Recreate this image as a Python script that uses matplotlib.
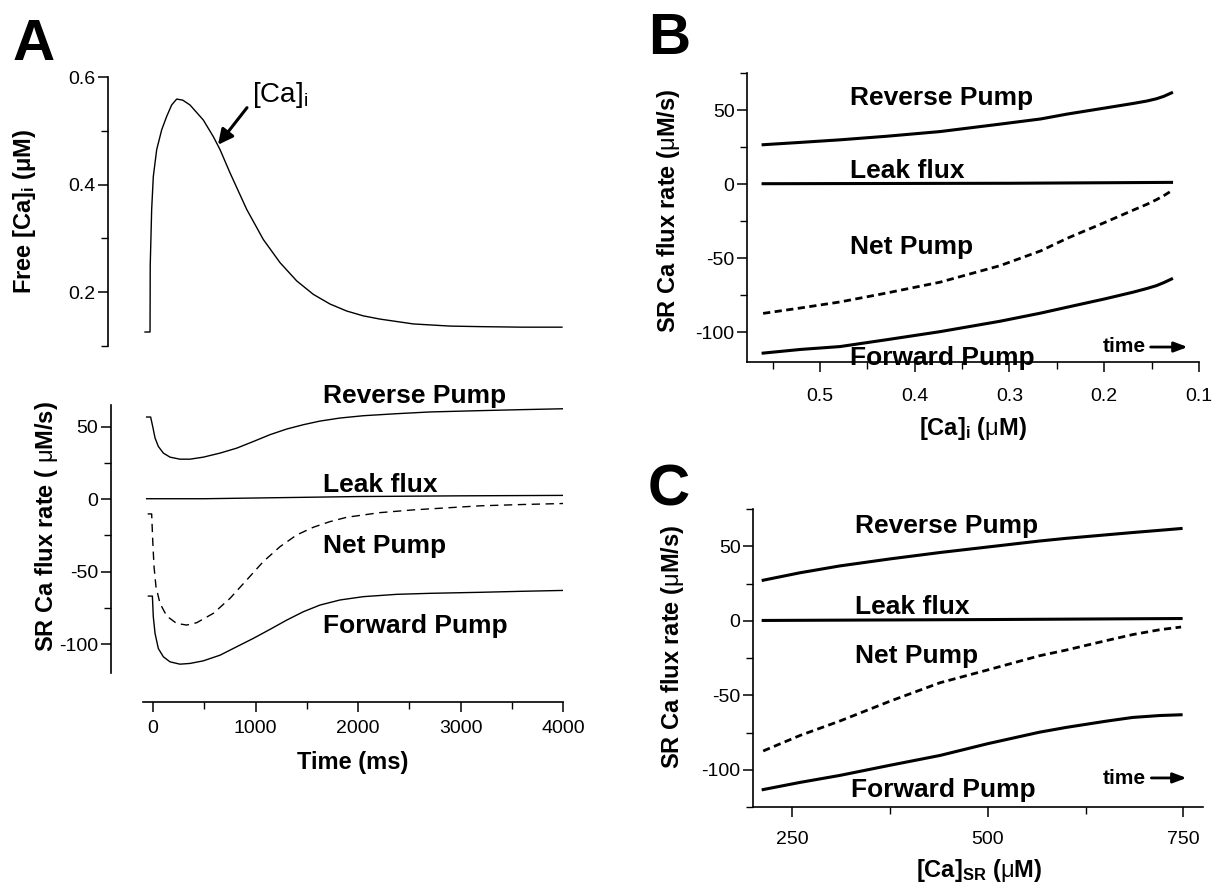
import numpy as np
import matplotlib
matplotlib.use('Agg')
import matplotlib.pyplot as plt
from matplotlib.ticker import MultipleLocator

plt.rcParams['font.family'] = ['Liberation Sans', 'DejaVu Sans']
plt.rcParams['mathtext.fontset'] = 'custom'
plt.rcParams['mathtext.rm'] = 'Liberation Sans'
plt.rcParams['mathtext.bf'] = 'Liberation Sans:bold'
plt.rcParams['mathtext.it'] = 'Liberation Sans:italic'
plt.rcParams['axes.unicode_minus'] = False

# ---- Panel A, top: free [Ca]i transient (ms, uM)
t_ca = [-78, -29, -27, -13, 3, 36, 85, 134, 182, 231, 290, 361, 491, 589, 654,
        751, 914, 1076, 1239, 1402, 1564, 1727, 1890, 2052, 2215, 2540, 2900,
        3190, 3600, 3990]
ca_i = [0.126, 0.126, 0.25, 0.354, 0.415, 0.465, 0.502, 0.527, 0.548, 0.559,
        0.557, 0.548, 0.520, 0.489, 0.465, 0.422, 0.354, 0.298, 0.255, 0.221,
        0.196, 0.178, 0.165, 0.156, 0.150, 0.141, 0.137, 0.136, 0.135, 0.135]

# ---- Panel A, bottom: SR Ca fluxes vs time (uM/s)
t_rev = [-62, -23, -3, 20, 52, 101, 166, 263, 361, 491, 654, 816, 979, 1141,
         1304, 1467, 1629, 1824, 2052, 2377, 2702, 3190, 3600, 4000]
a_reverse = [56.7, 56.7, 50.2, 42.2, 36.4, 31.8, 29.0, 27.6, 27.6, 29.0, 31.8,
             35.2, 39.8, 44.5, 48.4, 51.4, 53.9, 56.0, 57.6, 59.0, 60.2, 61.1,
             61.8, 62.4]
t_leak = [-62, 500, 1000, 2000, 3000, 4000]
a_leak = [0.3, 0.3, 0.8, 1.8, 2.3, 2.6]
t_net = [-52, -13, -3, 10, 29, 68, 134, 231, 329, 426, 589, 751, 914, 1076,
         1239, 1402, 1564, 1727, 1890, 2215, 2540, 3190, 3600, 4000]
a_net = [-10.2, -10.2, -28.1, -46.6, -60.4, -71.9, -80.7, -85.8, -86.9, -85.3,
         -78.8, -68.5, -55.8, -43.1, -32.8, -24.7, -19.4, -15.5, -12.5, -9.3,
         -7.4, -4.6, -3.7, -3.0]
t_fwd = [-45, -6, 3, 20, 52, 101, 166, 263, 361, 491, 654, 816, 979, 1141,
         1304, 1467, 1629, 1824, 2052, 2377, 2702, 3190, 3600, 4000]
a_forward = [-66.9, -66.9, -81.2, -92.7, -103.1, -108.8, -112.3, -113.9,
             -113.4, -111.6, -107.7, -101.9, -96.1, -89.9, -83.5, -77.7,
             -73.1, -69.6, -67.3, -65.7, -65.0, -64.3, -63.6, -63.0]

# ---- Panel B: fluxes vs [Ca]i (uM)
b_ca = [0.56, 0.52, 0.479, 0.43, 0.373, 0.31, 0.267, 0.239, 0.2, 0.169, 0.155,
        0.145, 0.137, 0.129]
b_reverse = [26.6, 28.2, 29.9, 32.3, 35.5, 40.5, 44, 47.3, 51.3, 54.5, 56.1,
             57.6, 59.3, 61.6]
b_net = [-87.2, -83.5, -79.5, -73.5, -66.1, -55, -45, -36.5, -26, -17.4, -13.6,
         -10.5, -7.7, -4.5]
b_forward = [-114, -111.5, -109.6, -105, -99.5, -92.5, -87, -83, -77.5, -72.8,
             -70.4, -68.5, -66.4, -64]
b_leak_ca = [0.56, 0.3, 0.129]
b_leak = [0.3, 0.6, 1.2]

# ---- Panel C: fluxes vs [Ca]SR (uM)
c_sr = [213, 260, 311, 375, 439, 500, 566, 600, 650, 685, 720, 747]
c_reverse = [27.2, 32.2, 36.8, 41.5, 45.8, 49.5, 53.5, 55.3, 57.6, 59.2, 60.7,
             61.9]
c_net = [-87.4, -77, -67.3, -54, -41.6, -33, -23.5, -19.7, -13.5, -9.3, -6,
         -4.2]
c_forward = [-113.3, -108.5, -103.8, -97, -90.4, -82.5, -74.8, -71.6, -67.5,
             -64.9, -63.6, -63.1]
c_leak_sr = [213, 500, 747]
c_leak = [0.2, 0.8, 1.5]

W, H = 1215, 883


def rect(l, r, t, b):
    return [l / W, 1 - b / H, (r - l) / W, (b - t) / H]


def ftext(x, y, s, **kw):
    fig.text(x / W, 1 - y / H, s, **kw)


def style(ax, xpad=6):
    ax.spines['top'].set_visible(False)
    ax.spines['right'].set_visible(False)
    for s in ('left', 'bottom'):
        ax.spines[s].set_linewidth(1.2)
    ax.tick_params(which='major', direction='out', length=7, width=1.1,
                   labelsize=14, colors='black')
    ax.tick_params(which='minor', direction='out', length=5, width=1.0)
    ax.tick_params(axis='y', pad=2)
    ax.tick_params(axis='x', pad=xpad)
    ax.patch.set_alpha(0)


fig = plt.figure(figsize=(W / 100, H / 100), dpi=100)

# ---------------- A top
axa = fig.add_axes(rect(142.75, 563, 77, 346))
style(axa)
axa.plot(t_ca, ca_i, color='black', lw=1.0)
axa.set_xlim(-100, 4000)
axa.set_ylim(0.1, 0.6)
axa.spines['bottom'].set_visible(False)
axa.set_xticks([])
axa.spines['left'].set_position(('outward', 25))
axa.set_yticks([0.2, 0.4, 0.6])
axa.yaxis.set_minor_locator(MultipleLocator(0.1))
axa.set_yticklabels(['0.2', '0.4', '0.6'])
axa.annotate('', xy=(634, 0.474), xytext=(917, 0.543),
             arrowprops=dict(arrowstyle='-|>,head_length=0.9,head_width=0.45',
                             lw=2.2, color='black', shrinkA=0, shrinkB=0))
axa.text(966, 0.554, r'[Ca]$_\mathrm{i}$', fontsize=20, va='baseline',
         ha='left')

# ---------------- A bottom
axb = fig.add_axes(rect(142.75, 563, 405, 673))
style(axb)
axb.plot(t_rev, a_reverse, color='black', lw=1.0)
axb.plot(t_leak, a_leak, color='black', lw=1.0)
axb.plot(t_net, a_net, color='black', lw=1.0, dashes=(6, 4))
axb.plot(t_fwd, a_forward, color='black', lw=1.0)
axb.set_xlim(-100, 4000)
axb.set_ylim(-120, 65)
axb.spines['left'].set_position(('outward', 23))
axb.spines['bottom'].set_position(('outward', 21))
axb.set_yticks([-100, -50, 0, 50])
axb.yaxis.set_minor_locator(MultipleLocator(25))
axb.set_xticks([0, 1000, 2000, 3000, 4000])
axb.xaxis.set_minor_locator(MultipleLocator(500))
lab = dict(fontsize=19, fontweight='bold', va='baseline', ha='left')
axb.text(1660, 66.6, 'Reverse Pump', **lab)
axb.text(1660, 5.0, 'Leak flux', **lab)
axb.text(1660, -37.1, 'Net Pump', **lab)
axb.text(1660, -92.5, 'Forward Pump', **lab)

# ---------------- B
axB = fig.add_axes(rect(747, 1199, 73, 362))
style(axB, xpad=12)
axB.plot(b_ca, b_reverse, color='black', lw=2.2)
axB.plot(b_leak_ca, b_leak, color='black', lw=2.2)
axB.plot(b_ca, b_net, color='black', lw=2.0, dashes=(2.6, 1.6))
axB.plot(b_ca, b_forward, color='black', lw=2.2)
axB.set_xlim(0.577, 0.1)
axB.set_ylim(-120, 75)
axB.set_yticks([-100, -50, 0, 50])
axB.yaxis.set_minor_locator(MultipleLocator(25))
axB.set_xticks([0.5, 0.4, 0.3, 0.2, 0.1])
axB.set_xticklabels(['0.5', '0.4', '0.3', '0.2', '0.1'])
axB.xaxis.set_minor_locator(MultipleLocator(0.05))
axB.text(0.468, 53.4, 'Reverse Pump', **lab)
axB.text(0.468, 4.2, 'Leak flux', **lab)
axB.text(0.468, -47.1, 'Net Pump', **lab)
axB.text(0.468, -122, 'Forward Pump', **lab)
axB.text(0.2016, -113.3, 'time', fontsize=15, fontweight='bold',
         va='baseline', ha='left')
axB.annotate('', xy=(0.112, -109.9), xytext=(0.151, -109.9),
             arrowprops=dict(arrowstyle='-|>,head_length=0.8,head_width=0.3',
                             lw=2.0, color='black', shrinkA=0, shrinkB=0))

# ---------------- C
axC = fig.add_axes(rect(753, 1203, 509, 807))
style(axC, xpad=10)
axC.plot(c_sr, c_reverse, color='black', lw=2.2)
axC.plot(c_leak_sr, c_leak, color='black', lw=2.2)
axC.plot(c_sr, c_net, color='black', lw=2.0, dashes=(2.6, 1.6))
axC.plot(c_sr, c_forward, color='black', lw=2.2)
axC.set_xlim(200, 775)
axC.set_ylim(-125, 75)
axC.set_yticks([-100, -50, 0, 50])
axC.yaxis.set_minor_locator(MultipleLocator(25))
axC.set_xticks([250, 500, 750])
axC.xaxis.set_minor_locator(MultipleLocator(125))
axC.text(330, 58.9, 'Reverse Pump', **lab)
axC.text(330, 4.5, 'Leak flux', **lab)
axC.text(330, -28.4, 'Net Pump', **lab)
axC.text(325, -118.3, 'Forward Pump', **lab)
axC.text(647, -109.6, 'time', fontsize=15, fontweight='bold',
         va='baseline', ha='left')
axC.annotate('', xy=(754, -105.5), xytext=(709, -105.5),
             arrowprops=dict(arrowstyle='-|>,head_length=0.8,head_width=0.3',
                             lw=2.0, color='black', shrinkA=0, shrinkB=0))

# ---------------- axis titles and panel letters
yl = dict(fontsize=17, fontweight='bold', rotation=90, ha='center',
          va='center')
ftext(25, 211, r'Free [Ca]$_\mathbf{i}$ (μM)', **yl)
ftext(47, 527, r'SR Ca flux rate ( $\mathrm{μ}$M/s)', **yl)
ftext(669, 211, r'SR Ca flux rate ($\mathrm{μ}$M/s)', **yl)
ftext(673, 647, r'SR Ca flux rate ($\mathrm{μ}$M/s)', **yl)

xl = dict(fontsize=17, fontweight='bold', ha='center', va='center')
ftext(353, 763, 'Time (ms)', **xl)
ftext(973, 428, r'[Ca]$_\mathbf{i}$ ($\mathrm{μ}$M)', **xl)
ftext(979, 870, r'[Ca]$_\mathbf{SR}$ ($\mathrm{μ}$M)', **xl)

pl = dict(fontsize=42, fontweight='bold', ha='left', va='baseline')
ftext(13, 60, 'A', **pl)
ftext(648, 54, 'B', **pl)
ftext(648, 506, 'C', **pl)

fig.savefig('out.png', dpi=100)
